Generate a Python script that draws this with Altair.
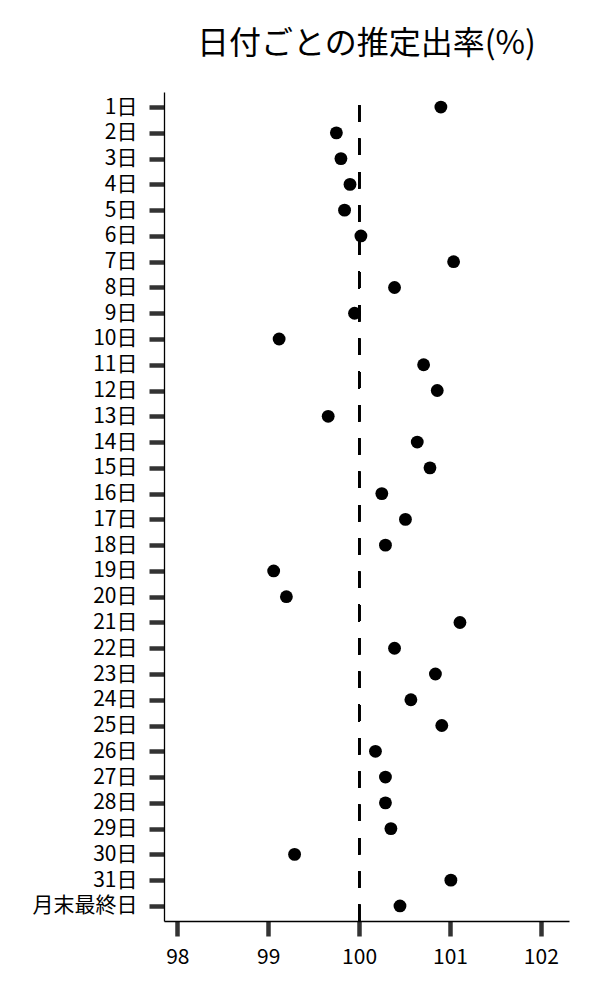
import altair as alt
import pandas as pd

days = [f"{i}日" for i in range(1, 32)] + ["月末最終日"]
rates = [100.90, 99.75, 99.80, 99.90, 99.84, 100.02, 101.04, 100.39, 99.95, 99.12,
         100.71, 100.86, 99.66, 100.64, 100.78, 100.25, 100.51, 100.29, 99.06, 99.20,
         101.11, 100.39, 100.84, 100.57, 100.91, 100.18, 100.29, 100.29, 100.35, 99.29,
         101.01, 100.45]
x_ticks = [98, 99, 100, 101, 102]
ref_value = 100
title_text = "日付ごとの推定出率(%)"

df = pd.DataFrame({"day": days, "rate": rates})

FONT = "Noto Sans CJK JP"
W, H = 405, 829

xscale = alt.Scale(domain=[97.853, 102.31], nice=False, zero=False)

rule = alt.Chart(df).mark_rule(
    color="black", strokeWidth=2, strokeDash=[16.5, 16.8]
).encode(
    x=alt.datum(ref_value, scale=xscale),
    y=alt.value(H),
    y2=alt.value(0),
)

points = alt.Chart(df).mark_point(
    filled=True, color="black", opacity=1, size=165, shape="circle"
).encode(
    x=alt.X("rate:Q", scale=xscale,
            axis=alt.Axis(values=x_ticks, title=None, format="d")),
    y=alt.Y("day:N", sort=days,
            scale=alt.Scale(type="point", padding=0.585),
            axis=alt.Axis(title=None)),
)

chart = alt.layer(rule, points).properties(
    width=W,
    height=H,
    title=alt.TitleParams(title_text, anchor="middle", fontSize=32,
                          font=FONT, fontWeight="normal", color="black", offset=30),
    autosize=alt.AutoSizeParams(type="none"),
    padding={"left": 156, "top": 84, "right": 20, "bottom": 60},
).configure_view(stroke=None).configure_axis(
    domainColor="black",
    domainWidth=1.3,
    tickColor="#333333",
    tickWidth=4.5,
    tickSize=15,
    labelFont=FONT,
    labelFontSize=21,
    labelColor="black",
    grid=False,
).configure_axisX(labelPadding=10).configure_axisY(labelPadding=12)

chart.save("out.html", embed_options={"renderer": "svg", "actions": False})
